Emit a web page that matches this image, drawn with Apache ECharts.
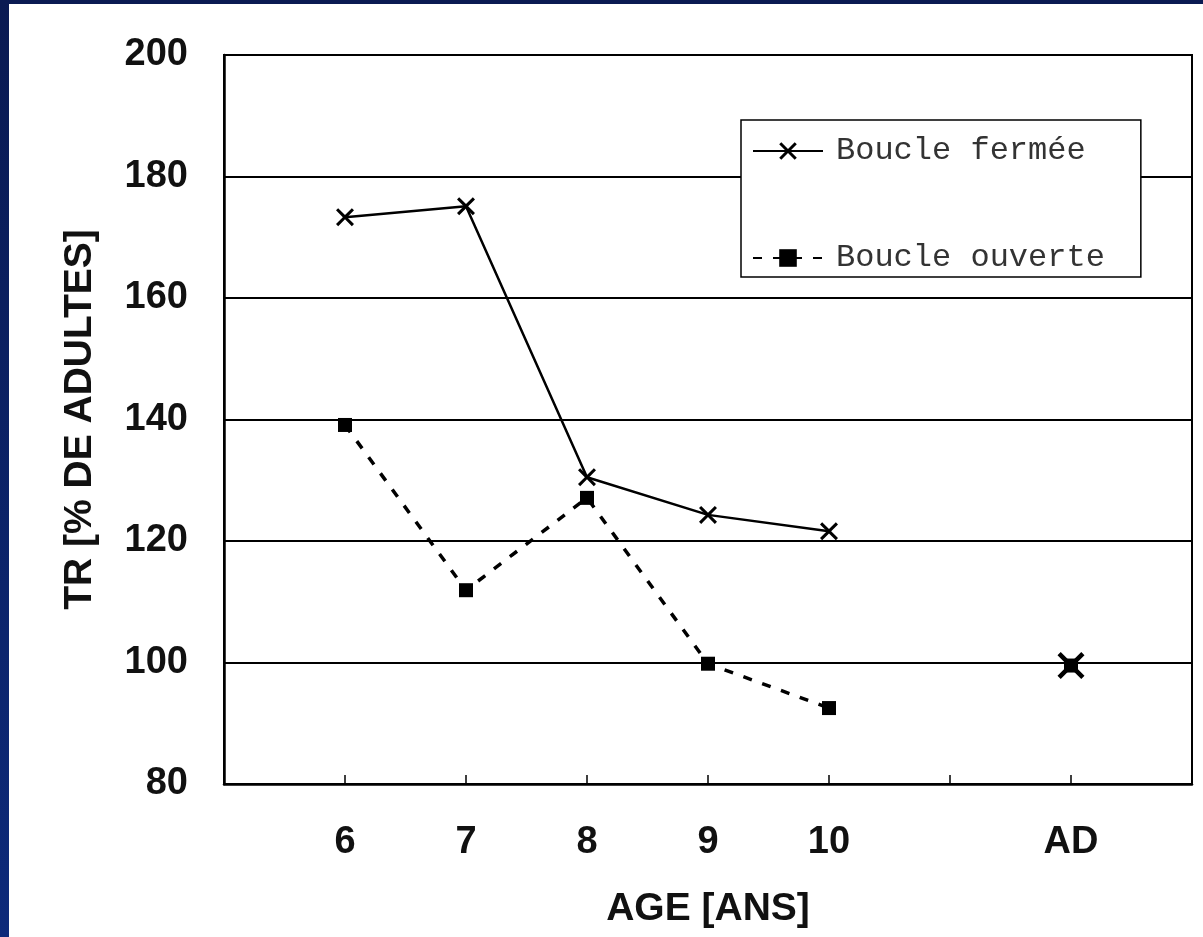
<!DOCTYPE html>
<html lang="fr">
  <head>
    <meta charset="UTF-8" />
    <title>TR</title>
    <script src="https://cdn.jsdelivr.net/npm/echarts@6.0.0/dist/echarts.min.js"></script>
    <style>
      html,
      body {
        margin: 0;
        padding: 0;
        width: 1203px;
        height: 937px;
        overflow: hidden;
        background: linear-gradient(180deg, #0a1a52 0%, #0d2a7a 100%);
      }
      #main {
        position: absolute;
        left: 9px;
        top: 4px;
        width: 1194px;
        height: 933px;
        background: #fff;
      }
    </style>
  </head>
  <body>
    <div id="main"></div>
    <script>
      // categories (empty ones only hold space on the axis)
      var ages = ["", "6", "7", "8", "9", "10", "", "AD", ""];
      var boucleFermee = [null, 173.3, 175.1, 130.5, 124.3, 121.6, null, 99.5, null];
      var boucleOuverte = [null, 139.1, 111.9, 127.1, 99.8, 92.5, null, 99.5, null];
      var yTicks = { min: 80, max: 200, step: 20 };

      // X marker as a filled polygon
      var crossPath =
        "path://M0,1.2L1.2,0L5,3.8L8.8,0L10,1.2L6.2,5L10,8.8L8.8,10L5,6.2L1.2,10L0,8.8L3.8,5Z";

      var fermeeData = boucleFermee.map(function (v, i) {
        if (ages[i] === "AD") return { value: v, symbolSize: 27 };
        return v;
      });

      var chart = echarts.init(document.getElementById("main"));
      var option = {
        animation: false,
        textStyle: { fontFamily: "Liberation Sans, Arial, sans-serif" },
        grid: {
          left: 215,
          top: 51,
          right: 11,
          bottom: 153,
          show: true,
          borderColor: "#000",
          borderWidth: 2,
        },
        legend: {
          orient: "vertical",
          left: 732,
          top: 116,
          padding: [15, 36, 3, 11],
          itemGap: 75,
          itemWidth: 70,
          itemHeight: 22,
          backgroundColor: "#fff",
          borderColor: "#000",
          borderWidth: 1.5,
          borderRadius: 0,
          textStyle: {
            fontFamily: "Liberation Mono, Courier New, monospace",
            fontSize: 32,
            color: "#333",
            padding: [0, 0, 0, 8],
          },
          data: ["Boucle fermée", "Boucle ouverte"],
        },
        xAxis: {
          type: "category",
          data: ages,
          boundaryGap: false,
          name: "AGE [ANS]",
          nameLocation: "middle",
          nameGap: 106,
          nameTextStyle: {
            fontSize: 39,
            fontWeight: "bold",
            color: "#111",
          },
          axisLine: { lineStyle: { color: "#000", width: 2.5 } },
          axisTick: {
            show: true,
            inside: true,
            length: 9,
            interval: 0,
            lineStyle: { color: "#000", width: 1.5 },
          },
          axisLabel: {
            interval: 0,
            margin: 40,
            fontSize: 38,
            fontWeight: "bold",
            color: "#111",
          },
          splitLine: { show: false },
        },
        yAxis: {
          type: "value",
          min: yTicks.min,
          max: yTicks.max,
          interval: yTicks.step,
          name: "TR [% DE ADULTES]",
          nameLocation: "middle",
          nameGap: 124,
          nameTextStyle: { fontSize: 39, fontWeight: "bold", color: "#111" },
          axisLine: { show: true, lineStyle: { color: "#000", width: 2.5 } },
          axisTick: { show: false },
          axisLabel: {
            margin: 36,
            fontSize: 38,
            fontWeight: "bold",
            color: "#111",
          },
          splitLine: { lineStyle: { color: "#000", width: 1.8 } },
        },
        series: [
          {
            name: "Boucle ouverte",
            type: "line",
            data: boucleOuverte,
            connectNulls: false,
            symbol: "rect",
            symbolSize: 14,
            itemStyle: { color: "#000" },
            lineStyle: { color: "#000", width: 3.5, type: [9, 11] },
            z: 3,
          },
          {
            name: "Boucle fermée",
            type: "line",
            data: fermeeData,
            connectNulls: false,
            symbol: crossPath,
            symbolSize: 18,
            itemStyle: { color: "#000" },
            lineStyle: { color: "#000", width: 2.5 },
            z: 4,
          },
        ],
      };
      chart.setOption(option);
    </script>
  </body>
</html>
